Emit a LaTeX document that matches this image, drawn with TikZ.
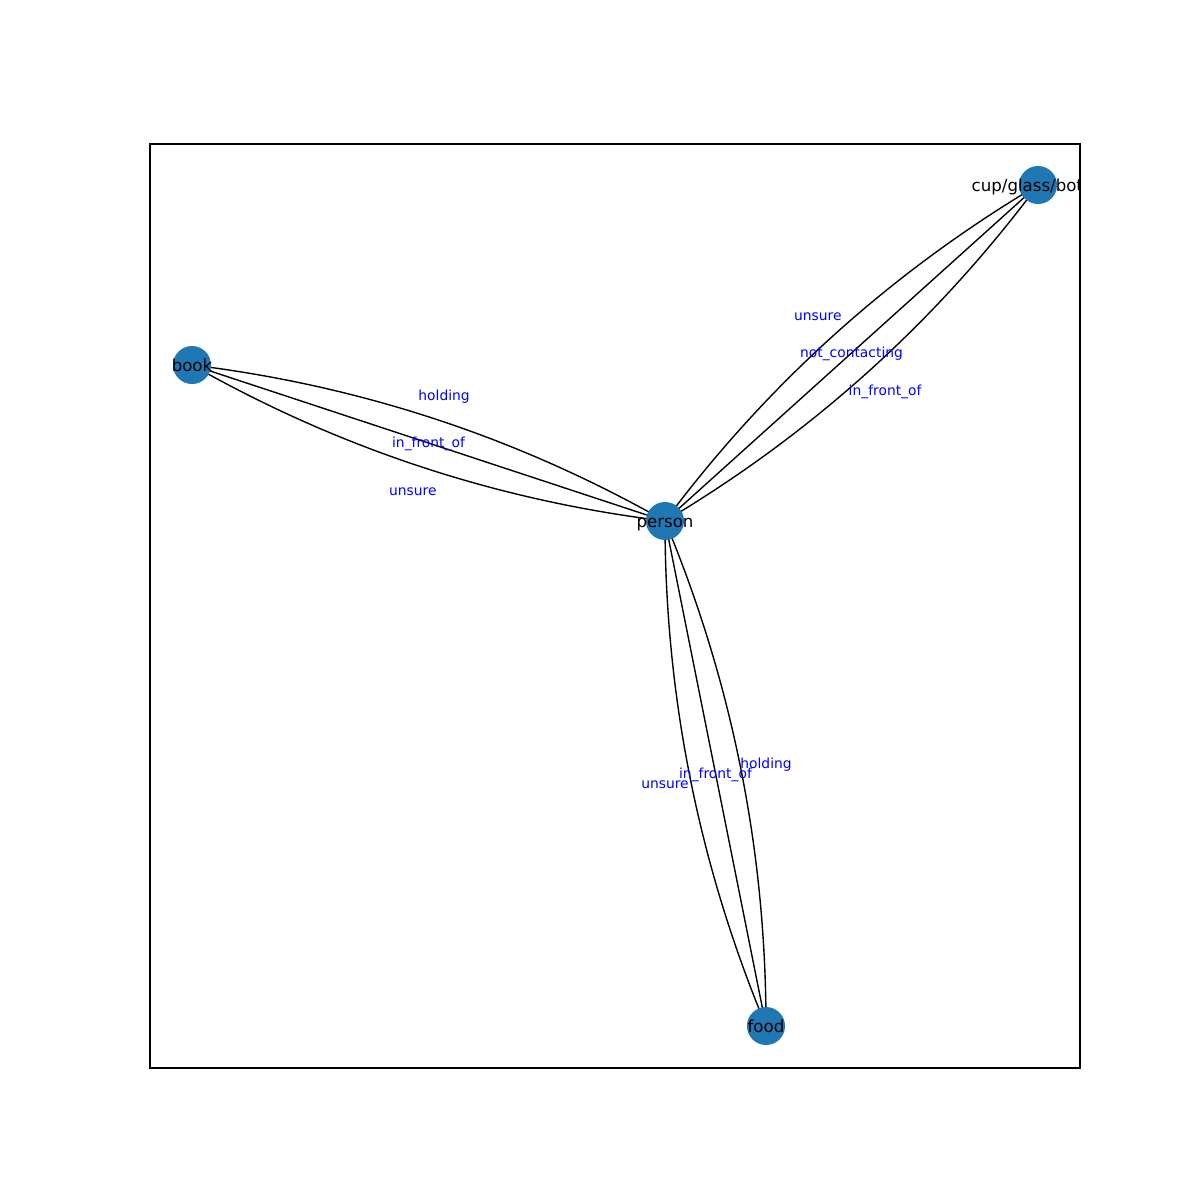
\documentclass[tikz,border=0pt]{standalone}
\usepackage{fontspec}
\setmainfont{DejaVu Sans}
\usetikzlibrary{calc,backgrounds}
\definecolor{nodeblue}{HTML}{1F77B4}
\tikzset{
  ent/.style={circle,fill=nodeblue,minimum size=0.38in,inner sep=0pt,
    label={[inner sep=0pt,text height=0.96em,text depth=0.24em,yshift=-1.4pt,
            font=\fontsize{12}{14}\selectfont,text=black]center:#1}},
  rel/.style={inner sep=0pt,text height=0.96em,text depth=0.24em,
    font=\fontsize{10}{12}\selectfont,text=blue},
  link/.style={draw=black,line width=1pt},
}
% quadratic arc from #1 to #2 through control point #3
\newcommand\qlink[3]{\draw[link] (#1.center) .. controls ($(#1.center)!2/3!(#3)$) and ($(#2.center)!2/3!(#3)$) .. (#2.center);}
\begin{document}
\begin{tikzpicture}[x=0.01in,y=-0.01in]
\useasboundingbox (0,0) rectangle (1200,1200);
\begin{scope}
\clip (150,144) rectangle (1080,1068);
\node[ent=person] (person) at (665,521) {};
\node[ent=book] (book) at (192,365) {};
\node[ent=cup/glass/bottle] (cup) at (1038,185) {};
\node[ent=food] (food) at (766,1026) {};

% control points of the curved links (edge labels sit on them)
\coordinate (bph) at (444.1,395.7);
\coordinate (bpu) at (412.9,490.3);
\coordinate (cpu) at (817.9,315.7);
\coordinate (cpi) at (885.1,390.3);
\coordinate (fph) at (766.0,763.4);
\coordinate (fpu) at (665.0,783.6);

\begin{pgfonlayer}{background}
\qlink{book}{person}{bph}
\draw[link] (book.center) -- (person.center);
\qlink{book}{person}{bpu}
\qlink{cup}{person}{cpu}
\draw[link] (cup.center) -- (person.center);
\qlink{cup}{person}{cpi}
\qlink{food}{person}{fph}
\draw[link] (food.center) -- (person.center);
\qlink{food}{person}{fpu}
\end{pgfonlayer}

\node[rel] (lbh) at (bph) {holding};
\node[rel] (lbi) at ($(book)!.5!(person)$) {in\_front\_of};
\node[rel] (lbu) at (bpu) {unsure};
\node[rel] (lcu) at (cpu) {unsure};
\node[rel] (lcn) at ($(cup)!.5!(person)$) {not\_contacting};
\node[rel] (lci) at (cpi) {in\_front\_of};
\node[rel] (lfh) at (fph) {holding};
\node[rel] (lfi) at ($(food)!.5!(person)$) {in\_front\_of};
\node[rel] (lfu) at (fpu) {unsure};
\end{scope}
\draw[line width=0.8pt] (150,144) rectangle (1080,1068);
\end{tikzpicture}
\end{document}
